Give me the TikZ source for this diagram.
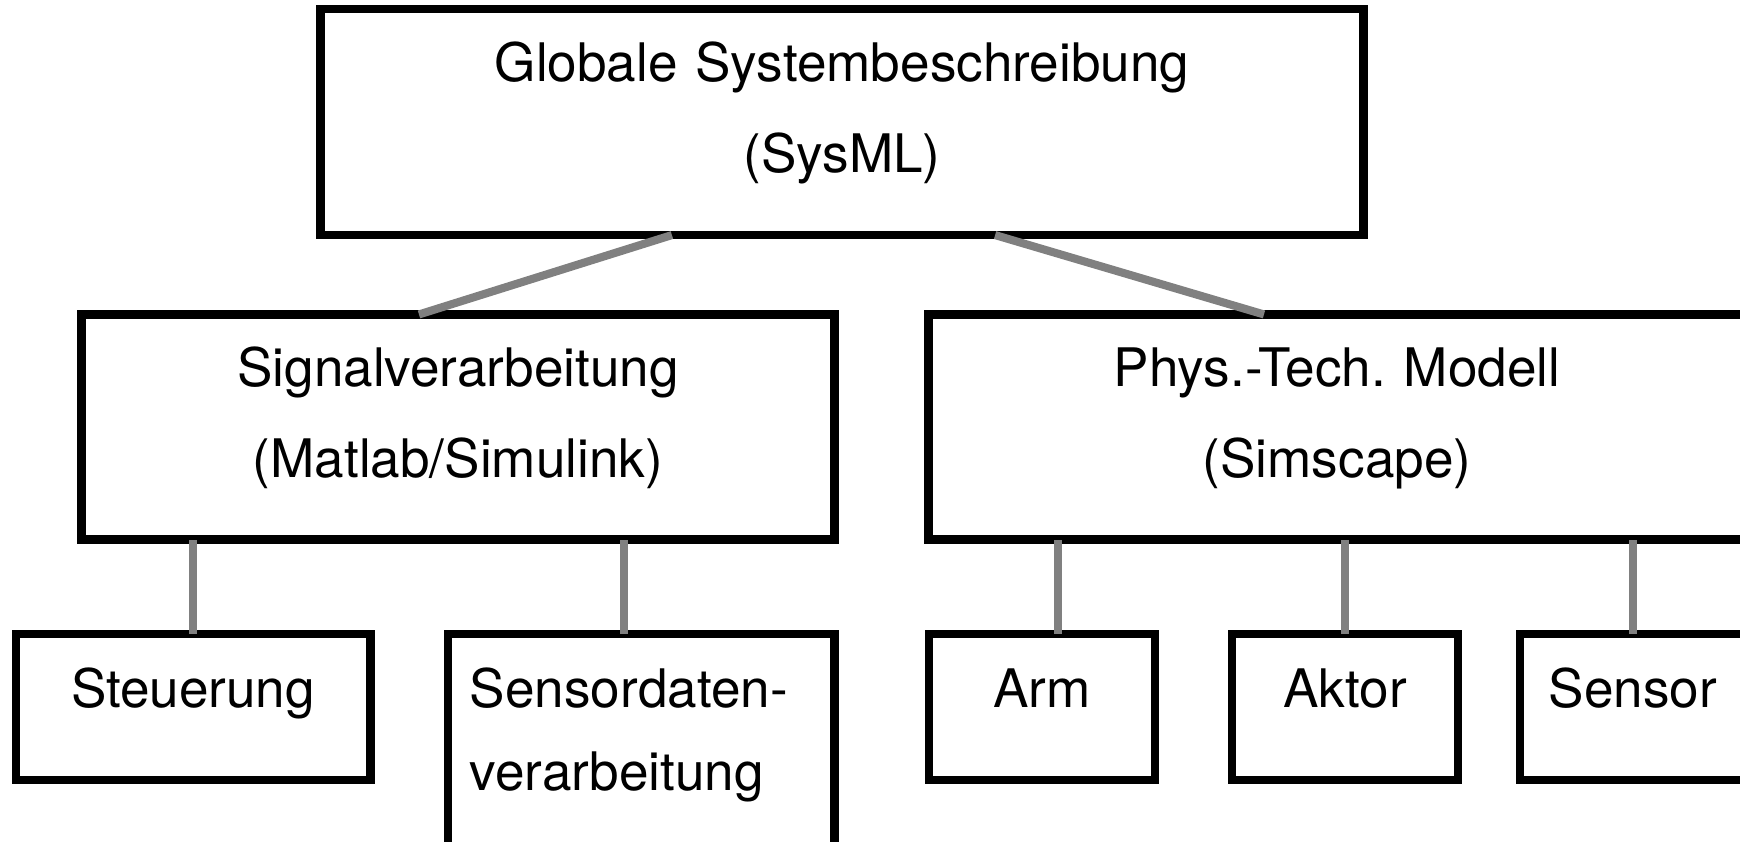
\documentclass[tikz,border=0pt]{standalone}
\usepackage{fontspec}
\setmainfont{TeX Gyre Heros}
\frenchspacing
\tikzstyle{block} = [draw,line width=2.5pt,inner sep=0pt,outer sep=0pt,align=center,
                     font=\fontsize{15.1}{25.6}\selectfont]
\tikzstyle{twoline} = [text height=0pt,text depth=0.8cm]
\tikzstyle{oneline} = [text height=0.3cm,text depth=0.3cm,minimum height=1.46cm]
\tikzstyle{link} = [draw,line width=2.3pt,gray]

\begin{document}
\begin{tikzpicture}[x=0.01cm,y=-0.01cm]
\useasboundingbox (0,0) rectangle (1740,841);
\clip (0,0) rectangle (1740,841);
% top level
\node[block,twoline,text width=10.42cm,minimum height=2.26cm] (sys) at (842,122)
  {Globale Systembeschreibung\\(SysML)};
% second level
\node[block,twoline,text width=7.53cm,minimum height=2.25cm] (sig) at (458,427)
  {Signalverarbeitung\\(Matlab/Simulink)};
\node[block,twoline,text width=8.16cm,minimum height=2.25cm] (phys) at (1337,427)
  {Phys.-Tech. Modell\\(Simscape)};
% third level
\node[block,oneline,minimum width=3.54cm] (steu) at (193,707) {Steuerung};
\node[block,twoline,align=left,text width=3.42cm,minimum width=3.86cm,minimum height=2.26cm]
  (sdv) at (641,747) {Sensordaten-\\[-0.07cm]verarbeitung};
\foreach \pos/\name/\label in {{(1042,707)/arm/Arm}, {(1345,707)/akt/Aktor},
                               {(1633,707)/sen/Sensor}}{
  \node[block,oneline,minimum width=2.26cm] (\name) at \pos {\label};
}
% connectors
\path[link] ([xshift=-1.70cm]sys.south) -- ([xshift=-0.39cm]sig.north);
\path[link] ([xshift=1.53cm]sys.south) -- ([xshift=-0.73cm]phys.north);
\foreach \child/\parent/\dx in {steu/sig/0, sdv/sig/-0.17, arm/phys/0.16,
                                akt/phys/0, sen/phys/0}{
  \path[link] ([xshift=\dx cm]\child.north) -- ([xshift=\dx cm]\child.north |- \parent.south);
}
\end{tikzpicture}
\end{document}
